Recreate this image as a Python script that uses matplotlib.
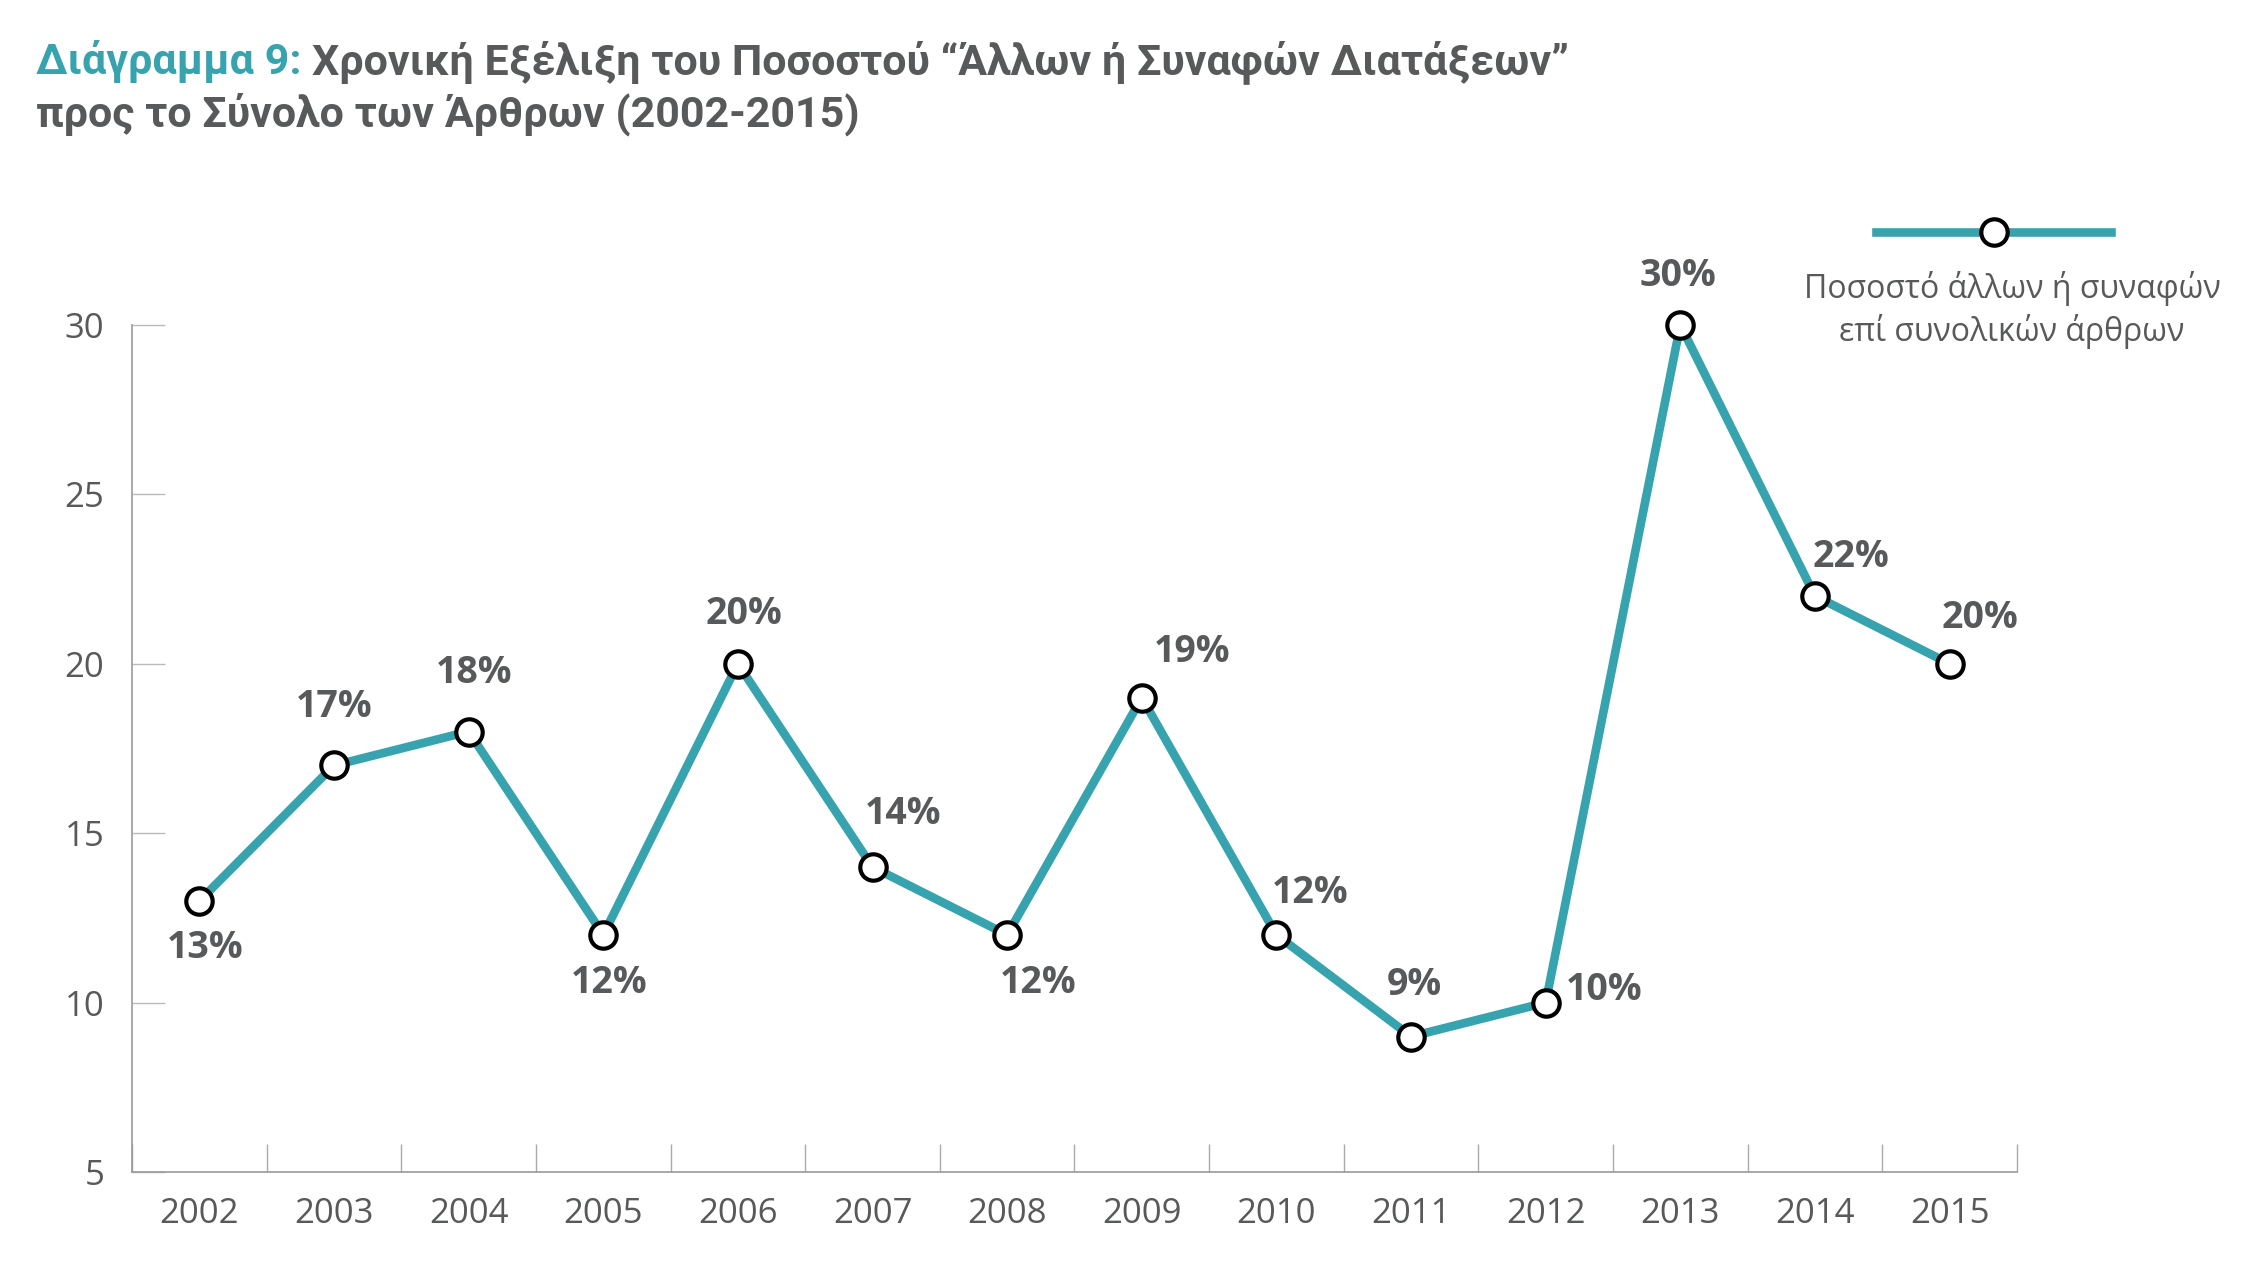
import numpy as np
from matplotlib import pyplot as plt
from matplotlib.lines import Line2D

# δεδομένα
years = ['2002', '2003', '2004', '2005', '2006', '2007', '2008',
         '2009', '2010', '2011', '2012', '2013', '2014', '2015']
values = [13, 17, 18, 12, 20, 14, 12, 19, 12, 9, 10, 30, 22, 20]
labels = ['13%', '17%', '18%', '12%', '20%', '14%', '12%',
          '19%', '12%', '9%', '10%', '30%', '22%', '20%']
# θέση ετικέτας σε points σε σχέση με το σημείο
label_offsets = [(4, -34), (0, 42), (4, 42), (4, -35), (4, 36), (22, 38), (22, -35),
                 (36, 33), (24, 30), (2, 37), (42, 9), (-2, 35), (26, 28), (22, 33)]
yticks = [5, 10, 15, 20, 25, 30]
legend_text = 'Ποσοστό άλλων ή συναφών\nεπί συνολικών άρθρων'

teal = '#36A3AE'
grey = '#58595B'
axis_grey = '#9A9A9A'
fam = ['Open Sans', 'DejaVu Sans']

fig = plt.figure(figsize=(22.46, 12.74), dpi=100)
ax = fig.add_axes([0.0588, 0.080, 0.8392, 0.665])

x = np.arange(len(years))
ax.plot(x, values, color=teal, lw=6.2, marker='o', markersize=19,
        markerfacecolor='white', markeredgecolor='black', markeredgewidth=3,
        solid_joinstyle='miter', zorder=3, clip_on=False)

for xi, v, lab, off in zip(x, values, labels, label_offsets):
    ax.annotate(lab, (xi, v), xytext=off, textcoords='offset points',
                ha='center', va='center', fontsize=27, fontweight='bold',
                color=grey, family=fam)

ax.set_xlim(-0.5, len(years) - 0.5)
ax.set_ylim(5, 30)
ax.set_yticks(yticks)
ax.set_yticklabels([str(t) for t in yticks])
ax.set_xticks(x)
ax.set_xticklabels(years)
ax.set_xticks(np.arange(len(years) + 1) - 0.5, minor=True)

for sp in ['top', 'right']:
    ax.spines[sp].set_visible(False)
for sp in ['left', 'bottom']:
    ax.spines[sp].set_color(axis_grey)
    ax.spines[sp].set_linewidth(1.2)

ax.tick_params(axis='y', direction='in', length=24, width=1, color='#BBBBBB',
               pad=20, labelsize=25, labelcolor=grey)
ax.tick_params(axis='x', which='major', length=0, pad=18, labelsize=25, labelcolor=grey)
ax.tick_params(axis='x', which='minor', direction='in', length=20, width=1, color='#AAAAAA')
for t in ax.get_xticklabels() + ax.get_yticklabels():
    t.set_family(fam)

# υπόμνημα
fig.add_artist(Line2D([1876 / 2246, 2111 / 2246], [1 - 232 / 1274] * 2,
                      color=teal, lw=6.2, transform=fig.transFigure))
fig.add_artist(Line2D([1994 / 2246], [1 - 232 / 1274], marker='o', markersize=19,
                      markerfacecolor='white', markeredgecolor='black',
                      markeredgewidth=3, transform=fig.transFigure))
fig.text(2012 / 2246, 1 - 310 / 1274, legend_text, ha='center', va='center',
         fontsize=23, color=grey, linespacing=1.3, family=fam)

# τίτλος
tfam = ['Roboto', 'DejaVu Sans']
t1 = fig.text(36 / 2246, 1 - 74 / 1274, 'Διάγραμμα 9: ', fontsize=31, fontweight='bold',
              color=teal, va='baseline', family=tfam)
r = fig.canvas.get_renderer()
bb = t1.get_window_extent(renderer=r)
fig.text(bb.x1 / fig.bbox.width, 1 - 74 / 1274,
         'Χρονική Εξέλιξη του Ποσοστού “Άλλων ή Συναφών Διατάξεων”',
         fontsize=31, fontweight='bold', color=grey, va='baseline', family=tfam)
fig.text(36 / 2246, 1 - 126 / 1274, 'προς το Σύνολο των Άρθρων (2002-2015)',
         fontsize=31, fontweight='bold', color=grey, va='baseline', family=tfam)

plt.savefig('out.png', dpi=100)
